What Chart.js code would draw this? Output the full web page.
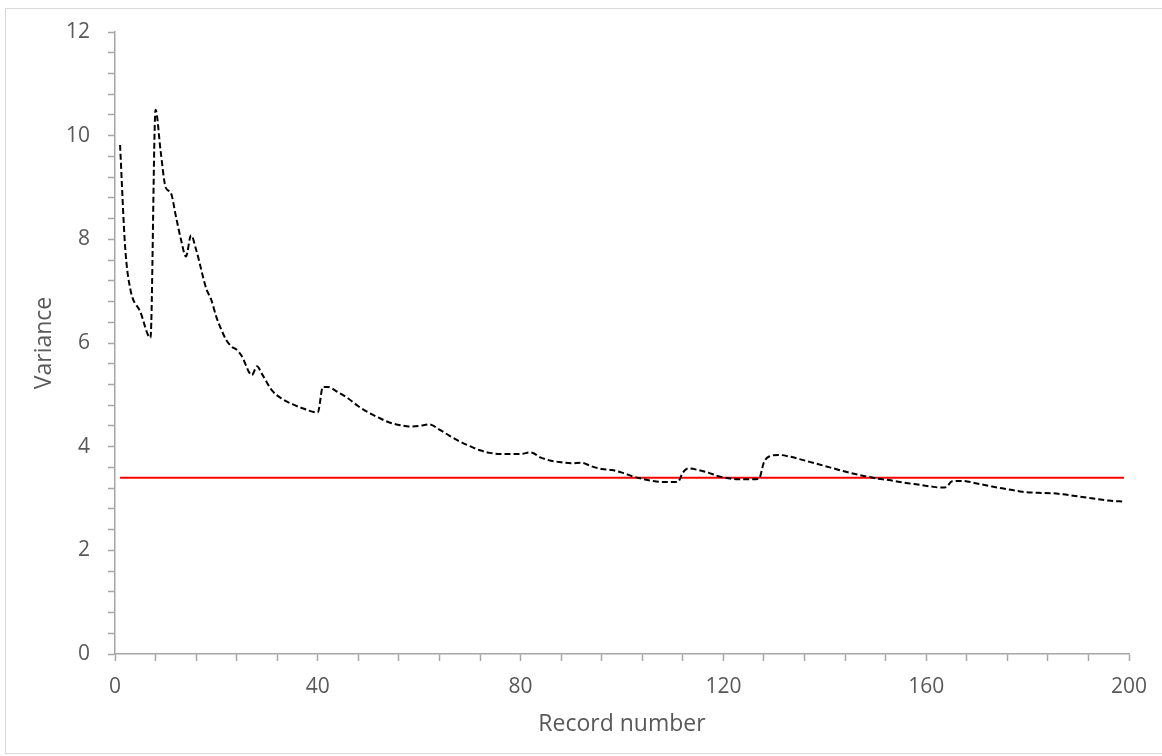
<!DOCTYPE html>
<html>
<head>
<meta charset="utf-8">
<script src="https://cdn.jsdelivr.net/npm/chart.js@4"></script>
<style>
    html, body { margin: 0; padding: 0; background: #fff; }
    #frame {
        position: absolute; left: 5px; top: 8px; width: 1162px; height: 746px;
        border: 1px solid #d9d9d9; box-sizing: border-box;
    }
    #varianceChart { position: absolute; left: 0; top: 0; }
</style>
</head>
<body>
<div id="frame"></div>
<canvas id="varianceChart" width="1162" height="756"></canvas>
<script>
const recordNumbers = [1, 2, 3, 5, 7, 8, 9, 10, 11, 12, 13, 14, 15, 16, 18, 19, 20, 21, 22, 23, 24, 25, 27, 28, 29, 31, 33, 35, 37, 40,
    41, 42, 44, 46, 48, 50, 52, 54, 56, 58, 60, 62, 64, 66, 68, 70, 72, 74, 76, 78, 80, 82, 84, 86, 88, 90, 92, 94, 96, 98,
    100, 102, 104, 106, 108, 111, 112, 113, 115, 117, 119, 121, 123, 125, 127, 128, 129, 131, 133, 135, 138, 141, 144, 147, 150,
    153, 156, 159, 161, 163, 164, 165, 167, 170, 173, 176, 179, 182, 185, 187, 190, 193, 196, 199];
const varianceValues = [9.82, 7.85, 7.05, 6.6, 6.1, 10.5, 9.7, 9.0, 8.9, 8.45, 8.0, 7.67, 8.08, 7.8, 7.05, 6.83, 6.5, 6.25, 6.05, 5.93, 5.87, 5.75, 5.38, 5.55, 5.4, 5.08, 4.92, 4.82, 4.74, 4.66,
    5.15, 5.15, 5.05, 4.93, 4.78, 4.66, 4.56, 4.47, 4.42, 4.39, 4.4, 4.43, 4.33, 4.21, 4.1, 4.01, 3.93, 3.88, 3.86, 3.86, 3.86, 3.89, 3.79, 3.73, 3.7, 3.68, 3.69, 3.62, 3.57, 3.55,
    3.5, 3.43, 3.38, 3.34, 3.32, 3.32, 3.5, 3.58, 3.55, 3.5, 3.43, 3.39, 3.37, 3.37, 3.38, 3.7, 3.81, 3.84, 3.81, 3.76, 3.68, 3.6, 3.52, 3.45, 3.39,
    3.35, 3.3, 3.26, 3.23, 3.21, 3.22, 3.33, 3.34, 3.29, 3.23, 3.18, 3.13, 3.11, 3.1, 3.08, 3.04, 3.0, 2.96, 2.94];

const thresholdRecords = [1, 199];
const thresholdValue = 3.4;

const xLabelTicks = [0, 40, 80, 120, 160, 200];
const yLabelTicks = [0, 2, 4, 6, 8, 10, 12];

const axisGrey = '#a6a6a6';
const textGrey = '#595959';

function isLabelTick(value, list) {
    return list.some((t) => Math.abs(t - value) < 1e-6);
}

const ctx = document.getElementById('varianceChart').getContext('2d');
const varianceChart = new Chart(ctx, {
    type: 'line',
    data: {
        datasets: [{
            label: 'Variance',
            data: recordNumbers.map((r, i) => ({ x: r, y: varianceValues[i] })),
            borderColor: '#000',
            borderWidth: 2,
            borderDash: [6, 3],
            pointRadius: 0,
            cubicInterpolationMode: 'monotone',
            fill: false
        }, {
            label: 'Threshold',
            data: thresholdRecords.map((r) => ({ x: r, y: thresholdValue })),
            borderColor: '#ff0000',
            borderWidth: 2,
            pointRadius: 0,
            fill: false
        }]
    },
    options: {
        responsive: false,
        animation: false,
        layout: { padding: { left: 0, top: 32, right: 33, bottom: 0 } },
        plugins: { legend: { display: false }, tooltip: { enabled: false } },
        scales: {
            x: {
                type: 'linear',
                min: 0,
                max: 200,
                afterFit: (scale) => { scale.height = 102; },
                border: { color: axisGrey, width: 1.5 },
                grid: { drawOnChartArea: false, tickLength: 7, color: axisGrey, tickWidth: 1.5 },
                ticks: {
                    stepSize: 8,
                    autoSkip: false,
                    maxRotation: 0,
                    padding: 13,
                    color: textGrey,
                    font: { family: 'Open Sans', size: 21 },
                    callback: (value) => isLabelTick(value, xLabelTicks) ? Math.round(value) : ''
                },
                title: {
                    display: true,
                    text: 'Record number',
                    color: textGrey,
                    font: { family: 'Open Sans', size: 23 },
                    padding: { top: 0, bottom: 18 }
                }
            },
            y: {
                min: 0,
                max: 12,
                afterFit: (scale) => { scale.width = 115; },
                border: { color: axisGrey, width: 1.5 },
                grid: { drawOnChartArea: false, tickLength: 7, color: axisGrey, tickWidth: 1.5 },
                ticks: {
                    stepSize: 0.4,
                    maxTicksLimit: 100,
                    autoSkip: false,
                    padding: 18,
                    color: textGrey,
                    font: { family: 'Open Sans', size: 21 },
                    callback: (value) => isLabelTick(value, yLabelTicks) ? Math.round(value) : ''
                },
                title: {
                    display: true,
                    text: 'Variance',
                    color: textGrey,
                    font: { family: 'Open Sans', size: 23 },
                    padding: { top: 31, bottom: 0 }
                }
            }
        }
    }
});
</script>
</body>
</html>
